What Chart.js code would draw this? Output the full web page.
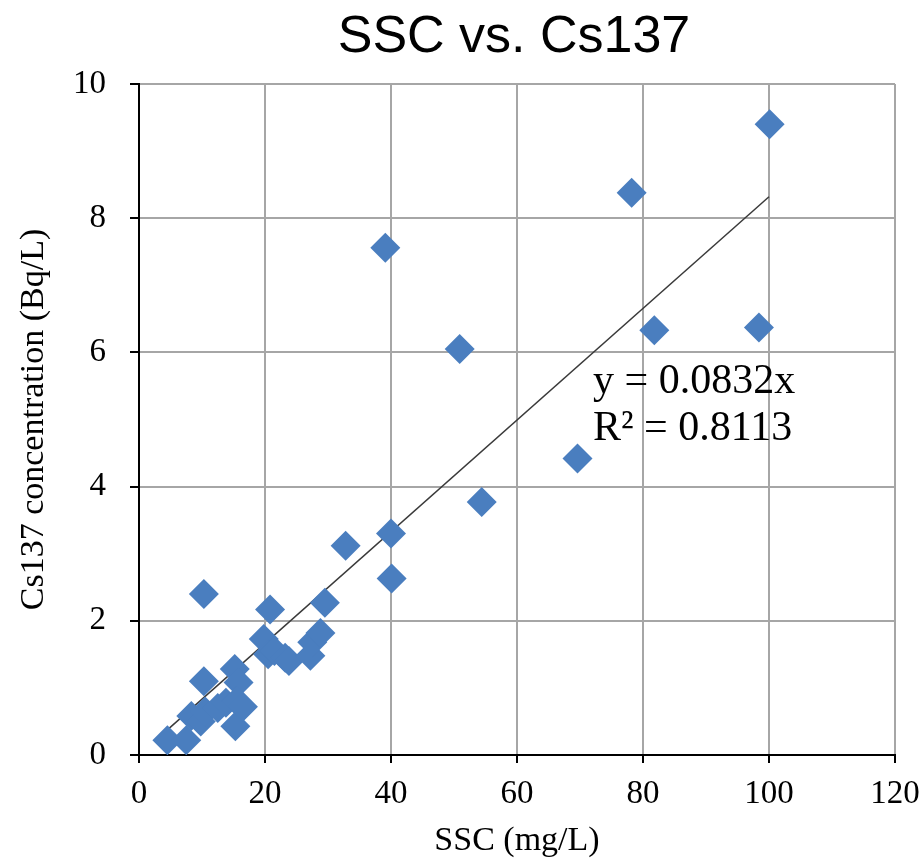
<!DOCTYPE html>
<html>
<head>
<meta charset="utf-8">
<style>
  html, body { margin: 0; padding: 0; background: #ffffff; }
  #wrap { width: 923px; height: 867px; position: relative; }
</style>
<script src="https://cdn.jsdelivr.net/npm/chart.js@4/dist/chart.umd.min.js"></script>
</head>
<body>
<div id="wrap"><canvas id="c" width="923" height="867"></canvas></div>
<script>
// ---- data ----
const ssc = [4.5, 7.5, 8.3, 9.8, 10.5, 10.3, 10.3, 12.5, 13.8, 15.2, 15.8, 15.3, 15.5, 16.5,
             19.8, 20.5, 20.8, 21.5, 23.2, 23.8, 27.2, 27.5, 28.8, 29.5, 32.8, 39.1, 40.0, 40.1,
             50.9, 54.4, 69.6, 78.2, 81.8, 98.4, 100.1];
const cs137 = [0.22, 0.22, 0.58, 0.50, 0.65, 1.10, 2.40, 0.70, 0.78, 1.28, 1.08, 0.43, 0.80, 0.72,
               1.73, 1.50, 2.17, 1.55, 1.45, 1.40, 1.48, 1.68, 1.82, 2.27, 3.12, 7.56, 3.30, 2.63,
               6.05, 3.77, 4.42, 8.38, 6.33, 6.37, 9.40];
const trendSlope = 0.0832;
const trendRange = [4.5, 100];
const xTicks = [0, 20, 40, 60, 80, 100, 120];
const yTicks = [0, 2, 4, 6, 8, 10];
const chartTitle = 'SSC vs. Cs137';
const xTitle = 'SSC (mg/L)';
const yTitle = 'Cs137 concentration (Bq/L)';
const eqLines = ['y = 0.0832x', 'R\u00B2 = 0.8113'];

const points = ssc.map((x, i) => ({ x: x, y: cs137[i] }));
const trend = trendRange.map(x => ({ x: x, y: trendSlope * x }));

const serif = "'Liberation Serif', 'Times New Roman', serif";

const overlay = {
  id: 'overlay',
  afterDraw(chart) {
    const ctx = chart.ctx;
    const a = chart.chartArea;
    ctx.save();
    // title
    ctx.fillStyle = '#000';
    ctx.font = "52px 'Liberation Sans', Arial, sans-serif";
    ctx.textAlign = 'center';
    ctx.textBaseline = 'alphabetic';
    ctx.fillText(chartTitle, (a.left + a.right) / 2 - 3, 52);
    // regression equation
    ctx.font = "42px " + serif;
    ctx.textAlign = 'left';
    ctx.fillText(eqLines[0], a.left + 454, 393);
    ctx.fillText(eqLines[1], a.left + 454, 440);
    ctx.restore();
  }
};

new Chart(document.getElementById('c'), {
  type: 'scatter',
  data: {
    datasets: [
      {
        label: 'trend',
        type: 'line',
        data: trend,
        borderColor: '#3a3a3a',
        borderWidth: 1.5,
        pointRadius: 0,
        fill: false,
        order: 2
      },
      {
        label: 'Cs137',
        data: points,
        pointStyle: 'rectRot',
        pointRadius: 15,
        pointHoverRadius: 15,
        backgroundColor: '#4a7ebf',
        borderColor: '#4a7ebf',
        borderWidth: 0,
        order: 1
      }
    ]
  },
  options: {
    responsive: false,
    animation: false,
    events: [],
    layout: { padding: { top: 84, right: 28, left: 0, bottom: 0 } },
    plugins: {
      legend: { display: false },
      title: { display: false },
      tooltip: { enabled: false }
    },
    scales: {
      x: {
        type: 'linear',
        min: 0, max: 120,
        afterBuildTicks: s => { s.ticks = xTicks.map(v => ({ value: v })); },
        afterFit: s => { s.height = 112; s.paddingRight = 0; s.paddingLeft = 0; },
        ticks: { color: '#000', font: { family: serif, size: 33 }, padding: 12 },
        grid: { color: '#a6a6a6', lineWidth: 2, tickColor: '#000', tickLength: 8, tickWidth: 2 },
        border: { color: '#000', width: 2 },
        title: { display: true, text: xTitle, color: '#000', font: { family: serif, size: 34 }, padding: { top: 0, bottom: 6 } }
      },
      y: {
        type: 'linear',
        min: 0, max: 10,
        afterBuildTicks: s => { s.ticks = yTicks.map(v => ({ value: v })); },
        afterFit: s => { s.width = 139; },
        ticks: { color: '#000', font: { family: serif, size: 33 }, padding: 24 },
        grid: { color: '#a6a6a6', lineWidth: 2, tickColor: '#000', tickLength: 9, tickWidth: 2 },
        border: { color: '#000', width: 2 },
        title: { display: true, text: yTitle, color: '#000', font: { family: serif, size: 34 }, padding: { top: 14, bottom: 0 } }
      }
    }
  },
  plugins: [overlay]
});
</script>
</body>
</html>
